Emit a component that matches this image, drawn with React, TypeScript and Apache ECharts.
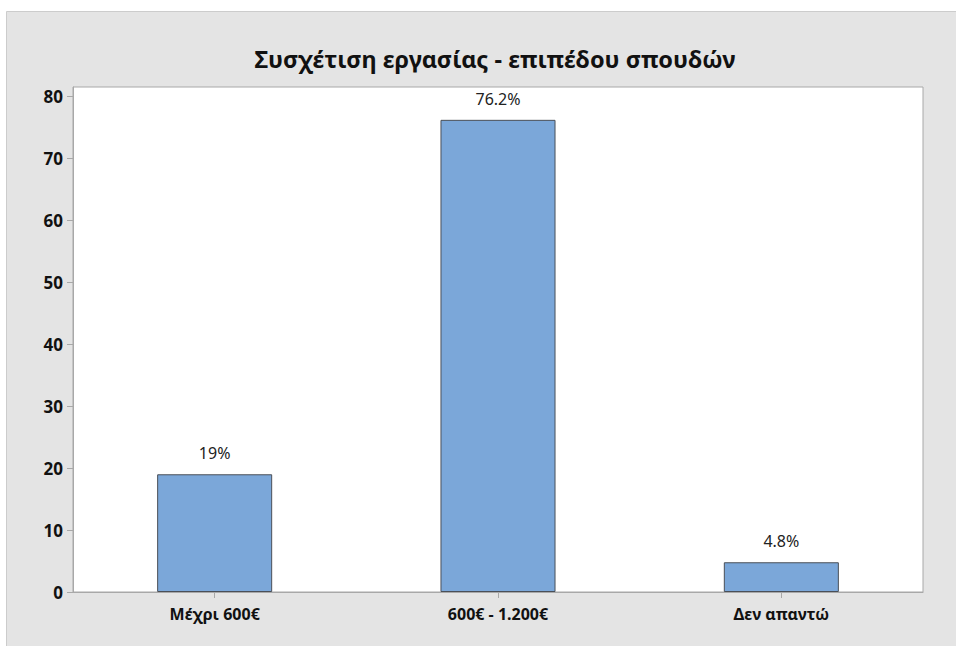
import React, { useEffect, useRef } from "react";
import * as echarts from "echarts";

const categories = ["Μέχρι 600€", "600€ - 1.200€", "Δεν απαντώ"];
const values = [19, 76.2, 4.8];
const valueLabels = ["19%", "76.2%", "4.8%"];
const titleText = "Συσχέτιση εργασίας - επιπέδου σπουδών";

const FONT = "'Noto Sans', 'Open Sans', sans-serif";

export default function App() {
  const ref = useRef<HTMLDivElement>(null);
  useEffect(() => {
    if (!ref.current) return;
    const chart = echarts.init(ref.current, undefined, { renderer: "svg" });
    chart.setOption({
      animation: false,
      backgroundColor: "#ffffff",
      graphic: [
        {
          type: "rect",
          z: -10,
          silent: true,
          shape: { x: 6.5, y: 11.5, width: 960, height: 650 },
          style: { fill: "#e4e4e4", stroke: "#cccccc", lineWidth: 1 },
        },
      ],
      title: {
        text: titleText,
        left: 490,
        textAlign: "center",
        top: 42,
        textStyle: { fontFamily: FONT, fontSize: 23.5, fontWeight: "bold", color: "#111111" },
      },
      grid: {
        left: 73,
        top: 87,
        right: 33,
        bottom: 54,
        show: true,
        backgroundColor: "#ffffff",
        borderColor: "#a8a8a8",
        borderWidth: 1,
      },
      xAxis: {
        type: "category",
        data: categories,
        axisLine: { show: true, lineStyle: { color: "#a8a8a8" } },
        axisTick: { show: true, alignWithLabel: true, length: 6, lineStyle: { color: "#a8a8a8" } },
        axisLabel: { fontFamily: FONT, fontSize: 16, fontWeight: "bold", color: "#111111", margin: 14 },
      },
      yAxis: {
        type: "value",
        min: 0,
        max: 81.5,
        interval: 10,
        splitLine: { show: false },
        axisLine: { show: true, lineStyle: { color: "#a8a8a8" } },
        axisTick: { show: true, length: 6, lineStyle: { color: "#a8a8a8" } },
        axisLabel: {
          fontFamily: FONT,
          fontSize: 17,
          fontWeight: "bold",
          color: "#111111",
          margin: 10,
          showMaxLabel: false,
          formatter: (v: number) => (v % 10 === 0 ? String(v) : ""),
        },
      },
      series: [
        {
          type: "bar",
          data: values,
          barWidth: "40.6%",
          itemStyle: { color: "#7ba7d9", borderColor: "#4a4f57", borderWidth: 1 },
          label: {
            show: true,
            position: "top",
            distance: 13,
            fontFamily: FONT,
            fontSize: 16,
            color: "#222222",
            formatter: (p: any) => valueLabels[p.dataIndex],
          },
        },
      ],
    });
    return () => chart.dispose();
  }, []);
  return (
    <div
      ref={ref}
      style={{ position: "fixed", left: 0, top: 0, width: 956, height: 646 }}
    />
  );
}
